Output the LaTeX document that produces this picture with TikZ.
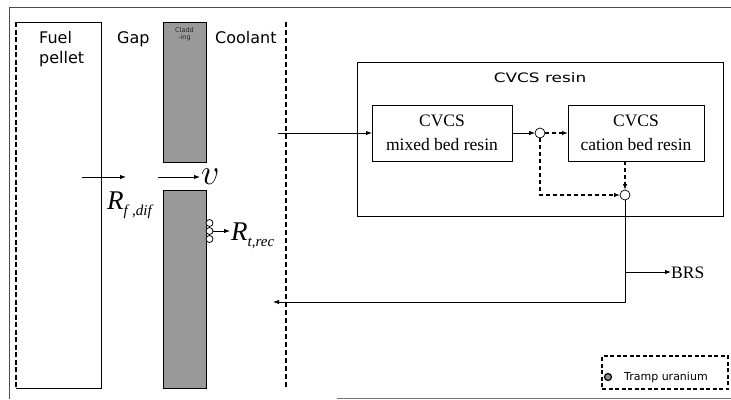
\documentclass[tikz,border=0pt]{standalone}
\usepackage{fontspec}
\setmainfont{Liberation Serif}
\newfontfamily\dvs{DejaVu Sans}
\usetikzlibrary{arrows.meta,patterns}
\tikzset{
  ar/.style={-{Latex[length=6pt,width=4.5pt]}, line width=0.9pt},
  dar/.style={ar, dash pattern=on 4pt off 3pt, line width=1.2pt},
  plainbox/.style={inner sep=0pt, outer sep=0pt},
  solidbox/.style={plainbox, draw, line width=0.9pt},
  junc/.style={circle, draw, fill=white, minimum size=10pt, inner sep=0pt, outer sep=0pt, line width=0.7pt},
  bead/.style={circle, draw, fill=white, minimum size=7pt, inner sep=0pt, outer sep=0pt, line width=0.8pt},
  clad/.style={plainbox, draw, line width=1pt, fill=black!40},
  sanstxt/.style={font=\dvs\fontsize{16}{20}\selectfont, inner sep=0pt},
  seriftxt/.style={font=\fontsize{17.5}{24}\selectfont, align=center, inner sep=0pt},
  heavydash/.style={line width=2pt, dash pattern=on 5pt off 2.5pt},
}
\begin{document}
\begin{tikzpicture}[x=1pt,y=-1pt]
\useasboundingbox (0,0) rectangle (731,399);
% outer frame
\draw[black!70, line width=0.8pt] (9,399) -- (9,7) -- (731,7);
\draw[black!55, line width=0.8pt] (337,398) -- (731,398);

% fuel pellet
\node[plainbox, minimum width=85pt, minimum height=366pt] (fuel) at (58.5,205) {};
\draw[line width=1pt] (fuel.north west) -- (fuel.north east) -- (fuel.south east) -- (fuel.south west);
\draw[heavydash] (fuel.north west) -- (fuel.south west);
\node[sanstxt, anchor=base west] (fueltxt) at (39,43) {Fuel};
\node[sanstxt, anchor=base west] (pellettxt) at (39,63) {pellet};
\node[sanstxt, anchor=base west] (gaptxt) at (117,43) {Gap};
\node[sanstxt, anchor=base west] (cooltxt) at (215,43) {Coolant};

% cladding
\node[clad, minimum width=43pt, minimum height=140pt] (cladU) at (184.5,92) {};
\node[clad, minimum width=43pt, minimum height=198pt] (cladL) at (184.5,289) {};
\node[font=\dvs\fontsize{6.5}{7.5}\selectfont, text=black!85, align=center, inner sep=0pt, anchor=north] (cladtxt) at (184.5,27) {Cladd\\-ing};

% coolant boundary
\coordinate (cbT) at (286,22);
\coordinate (cbB) at (286,388);
\draw[line width=2.3pt, dash pattern=on 5pt off 3pt] (cbT) -- (cbB);

% fuel release arrows
\coordinate (ff1) at (82,177);
\coordinate (ff2) at (126,177);
\draw[ar] (ff1) -- (ff2);
\coordinate (gp1) at (158,177);
\node[anchor=west, inner sep=0.5pt, scale=1.45] (v) at (200,177) {\fontsize{24}{24}\selectfont$v$};
\draw[ar] (gp1) -- (v.west |- gp1);
\node[anchor=base west, inner sep=0pt] (Rf) at (107,209) {\fontsize{27}{27}\selectfont\textit{R}\raisebox{-6pt}{\fontsize{15}{15}\selectfont\textit{f}\,,\textit{dif}}};

% recoil beads
\node[bead] (b1) at (209.5,223) {};
\node[bead] (b2) at (209.5,231) {};
\node[bead] (b3) at (209.5,239) {};
\node[anchor=base west, inner sep=0pt] (Rt) at (231,240) {\fontsize{27}{27}\selectfont\textit{R}\raisebox{-6pt}{\fontsize{15}{15}\selectfont\textit{t},\textit{rec}}};
\coordinate (rt1) at (213,231);
\coordinate (rt2) at (230,231);
\draw[ar] (rt1) -- (rt2);

% CVCS resin
\node[solidbox, minimum width=366pt, minimum height=154pt] (resin) at (540,139) {};
\node[font=\dvs\fontsize{13}{15}\selectfont, xscale=1.3, anchor=base, inner sep=0pt] (resintxt) at (540,82) {CVCS resin};
\node[solidbox, minimum width=140pt, minimum height=56pt, seriftxt] (mixed) at (442,133) {CVCS\\mixed bed resin};
\node[solidbox, minimum width=136pt, minimum height=56pt, seriftxt] (cation) at (636,133) {CVCS\\cation bed resin};
\node[junc] (j1) at (540,133) {};
\node[junc] (j2) at (625,195) {};

\coordinate (in1) at (278,133);
\draw[ar] (in1) -- (mixed.west);
\draw[ar] (mixed.east) -- (j1.west);
\draw[dar] (j1.east) -- (cation.west);
\draw[dar] (j2 |- cation.south) -- (j2.north);
\draw[dar] (j1.south) -- (j1 |- j2) -- (j2.west);

% return and BRS
\coordinate (retC) at (625,302);
\coordinate (ret) at (273,302);
\coordinate (br) at (625,272);
\draw[ar] (j2.south) -- (retC) -- (ret);
\node[font=\fontsize{17.5}{20}\selectfont, anchor=base west, inner sep=0pt] (brs) at (671,278) {BRS};
\draw[ar] (br) -- (brs.west |- br);

% legend
\node[plainbox, draw, line width=1.3pt, dash pattern=on 4pt off 2.5pt, minimum width=126pt, minimum height=33pt] (tramp) at (665,372.5) {};
\node[circle, draw, line width=1.2pt, fill=black!45, minimum size=7pt, inner sep=0pt] (tu) at (608,377) {};
\node[font=\dvs\fontsize{11}{13}\selectfont, anchor=base west, inner sep=0pt] (tutxt) at (624,380) {Tramp uranium};
\end{tikzpicture}
\end{document}
